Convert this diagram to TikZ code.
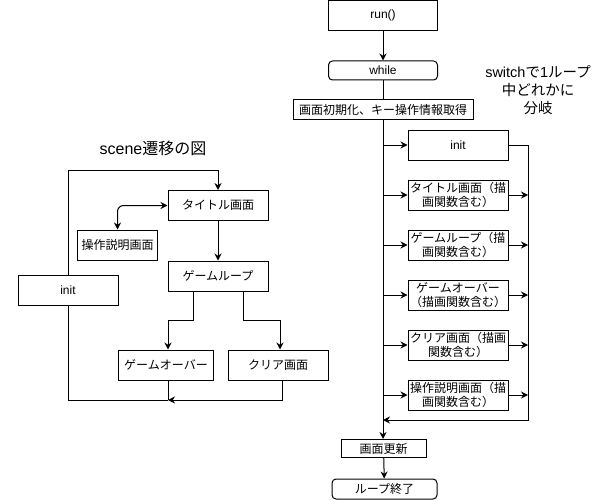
\documentclass[tikz,border=0pt]{standalone}
\usepackage{fontspec}
\setmainfont{Liberation Sans}
\newfontfamily\jp{Noto Sans CJK JP}
\usetikzlibrary{arrows.meta}

\begin{document}
\begin{tikzpicture}[x=1pt,y=-1pt,line width=1pt]

\def\colx{383}
\def\boxx{458}
\def\busx{528}

\tikzstyle{block}=[rectangle,draw=black,minimum width=100pt,minimum height=30pt,inner sep=0pt,align=center,font=\fontsize{12}{14.5}\selectfont]
\tikzstyle{jblock}=[block,font=\jp\fontsize{12}{14.5}\selectfont]
\tikzstyle{term}=[block,rounded corners=4pt]
\tikzstyle{jterm}=[jblock,rounded corners=4pt]
\tikzstyle{arr}=[-{Stealth[length=7pt,width=7pt]}]

\useasboundingbox (0,0) rectangle (599,500);

%main loop
\node[block,minimum width=109pt] (run) at (\colx,15.5) {run()};
\node[term,minimum width=109pt,minimum height=19pt] (while) at (\colx,70.5) {while};
\node[jblock,minimum width=180pt,minimum height=20pt] (prep) at (\colx,110) {画面初期化、キー操作情報取得};
\node[jblock,minimum width=85pt,minimum height=18pt] (update) at (383.5,448.5) {画面更新};
\node[jterm,minimum width=105pt,minimum height=20pt] (end) at (384.5,489) {ループ終了};

\node[align=center,font=\fontsize{14.5}{18}\selectfont] (switchNote) at (538,90) {switch{\jp で}1{\jp ループ}\\{\jp 中どれかに}\\{\jp 分岐}};

%branches
\node[block]  (initR)  at (\boxx,145) {init};
\node[jblock] (titleR) at (\boxx,195) {タイトル画面（描\\画関数含む）};
\node[jblock] (loopR)  at (\boxx,245) {ゲームループ（描\\画関数含む）};
\node[jblock] (overR)  at (\boxx,295) {ゲームオーバー\\（描画関数含む）};
\node[jblock] (clearR) at (\boxx,345) {クリア画面（描画\\関数含む）};
\node[jblock] (helpR)  at (\boxx,395) {操作説明画面（描\\画関数含む）};

\coordinate (busTop) at (\busx,145);
\coordinate (busBot) at (\busx,420);

% connections
\draw[arr] (run) -- (while);
\draw (while) -- (prep);
\draw[arr] (prep.south) -- (prep.south |- update.north);
\draw[arr] (update) -- (end);

\foreach \b in {initR,titleR,loopR,overR,clearR,helpR}
  \draw[arr] (prep.south |- \b.west) -- (\b.west);
\foreach \b in {titleR,loopR,overR,clearR,helpR}
  \draw[arr] (\b.east) -- (\b.east -| busTop);
\draw[arr] (initR.east) -- (busTop) -- (busBot) -- (prep.south |- busBot);

%scene diagram
\node[font=\fontsize{16}{18}\selectfont] (sceneLabel) at (153,148) {scene{\jp 遷移の図}};

\node[jblock] (title) at (218,205.5) {タイトル画面};
\node[jblock,minimum width=80pt] (help) at (117.5,245) {操作説明画面};
\node[jblock] (loop) at (218,276) {ゲームループ};
\node[block] (init) at (68,290.5) {init};
\node[jblock,minimum width=95pt] (over) at (166,365) {ゲームオーバー};
\node[jblock] (clear) at (278,365) {クリア画面};

\coordinate (merge) at (168,400);

\draw[arr] (init.north) -- ++(0,-104.5) -| (title.north);
\draw[{Stealth[length=7pt,width=7pt]}-{Stealth[length=7pt,width=7pt]},rounded corners=6pt] (help.north) |- (title.west);
\draw[arr] (title) -- (loop);
\draw[arr] ([xshift=-25pt]loop.south) -- ++(0,29) -| ([xshift=2pt]over.north);
\draw[arr] ([xshift=25pt]loop.south) -- ++(0,29) -| ([xshift=2pt]clear.north);

\draw (init.south) |- (merge);
\draw ([xshift=2pt]over.south) -- (merge);
\draw[arr] ([xshift=4pt]clear.south) |- (merge);

\end{tikzpicture}
\end{document}
